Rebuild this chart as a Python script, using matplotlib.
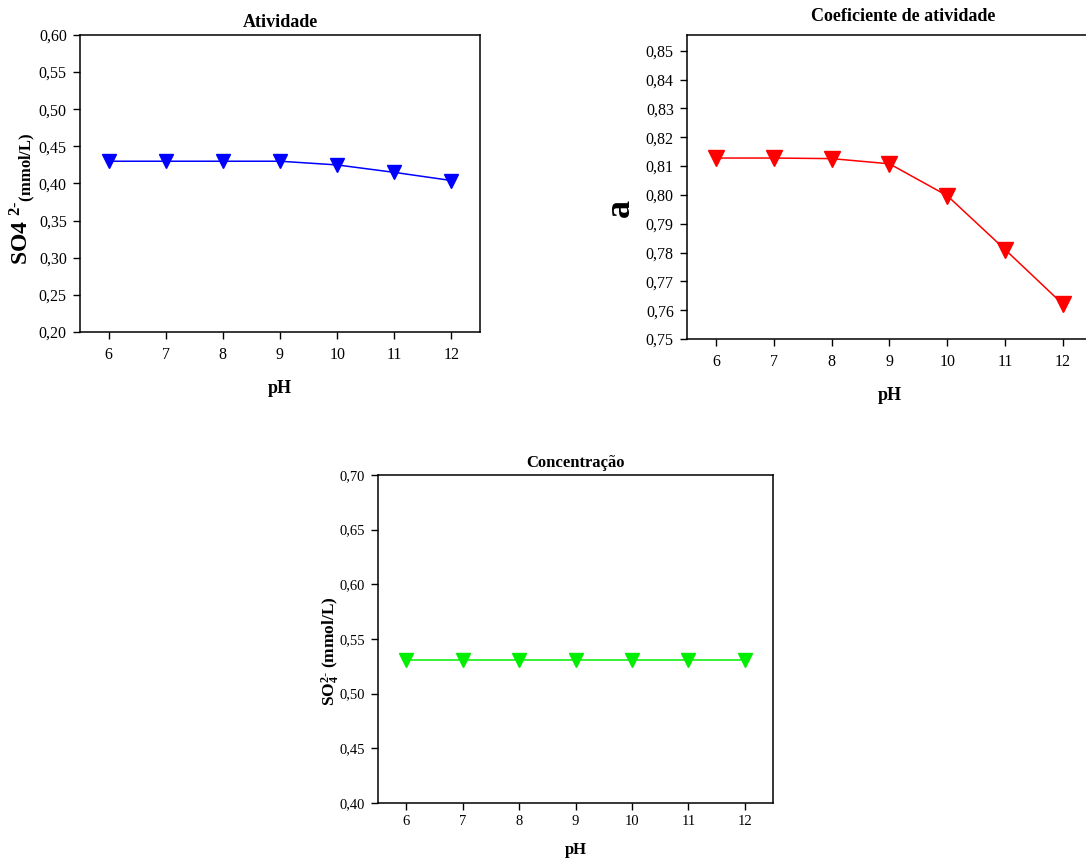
import matplotlib
matplotlib.use("Agg")
import matplotlib.pyplot as plt
from matplotlib.ticker import FuncFormatter, MultipleLocator

plt.rcParams['font.family'] = ['Liberation Serif', 'DejaVu Serif']
plt.rcParams['mathtext.fontset'] = 'custom'
plt.rcParams['mathtext.rm'] = 'Liberation Serif'
plt.rcParams['mathtext.bf'] = 'Liberation Serif:bold'
plt.rcParams['mathtext.default'] = 'bf'

# Dados
ph = [6, 7, 8, 9, 10, 11, 12]
atividade = [0.430, 0.430, 0.430, 0.430, 0.425, 0.415, 0.404]
coef_atividade = [0.8128, 0.8128, 0.8126, 0.8108, 0.7997, 0.7810, 0.7620]
concentracao = [0.531, 0.531, 0.531, 0.531, 0.531, 0.531, 0.531]

W, H = 1086, 859


def px_axes(fig, left, top, right, bottom):
    return fig.add_axes([left / W, (H - bottom) / H, (right - left) / W, (bottom - top) / H])


def virgula(v, pos):
    return f"{v:.2f}".replace('.', ',')


def estilo(ax, ylim, ystep, fs=11.5, xpad=6):
    ax.set_xlim(5.5, 12.5)
    ax.set_ylim(*ylim)
    ax.xaxis.set_major_locator(MultipleLocator(1))
    ax.yaxis.set_major_locator(MultipleLocator(ystep))
    ax.yaxis.set_major_formatter(FuncFormatter(virgula))
    ax.tick_params(direction='out', length=5, width=1, labelsize=fs,
                   top=False, right=False)
    ax.tick_params(axis='x', pad=xpad)
    ax.tick_params(axis='y', pad=4.5)
    for s in ax.spines.values():
        s.set_linewidth(1.1)


fig = plt.figure(figsize=(W / 100, H / 100), dpi=100)

# Atividade
ax1 = px_axes(fig, 80, 35, 480, 332)
ax1.plot(ph, atividade, color='#0000ff', lw=1.1, marker='v', ms=10)
estilo(ax1, (0.20, 0.60), 0.05)
ax1.set_title("Atividade", fontsize=13, fontweight='bold', pad=6)
ax1.set_xlabel("pH", fontsize=13, fontweight='bold', labelpad=12)
ax1.set_ylabel("SO4 $^{2\u2010}$$_{(mmol/L)}$", fontsize=17, fontweight='bold')
ax1.yaxis.set_label_coords(-0.105, 0.45)

# Coeficiente de atividade
ax2 = px_axes(fig, 687, 35, 1092, 339)
ax2.plot(ph, coef_atividade, color='#ff0000', lw=1.1, marker='v', ms=11.5)
estilo(ax2, (0.75, 0.8555), 0.01)
ax2.set_title("Coeficiente de atividade", fontsize=13, fontweight='bold', pad=10, x=0.534)
ax2.set_xlabel("pH", fontsize=13, fontweight='bold', labelpad=12)
ax2.set_ylabel("a", fontsize=26, fontweight='bold')
ax2.yaxis.set_label_coords(-0.125, 0.43)

# Concentração
ax3 = px_axes(fig, 378, 475, 773, 803)
ax3.plot(ph, concentracao, color='#00ee00', lw=1.1, marker='v', ms=9.5)
estilo(ax3, (0.40, 0.70), 0.05, fs=10.5, xpad=3.5)
ax3.set_title("Concentração", fontsize=12, fontweight='bold', pad=6)
ax3.set_xlabel("pH", fontsize=12, fontweight='bold', labelpad=10)
ax3.set_ylabel("SO$_4^{2\u2010}$ (mmol/L)", fontsize=12.5, fontweight='bold')
ax3.yaxis.set_label_coords(-0.092, 0.463)

plt.savefig("out.png", dpi=100)
plt.close()
